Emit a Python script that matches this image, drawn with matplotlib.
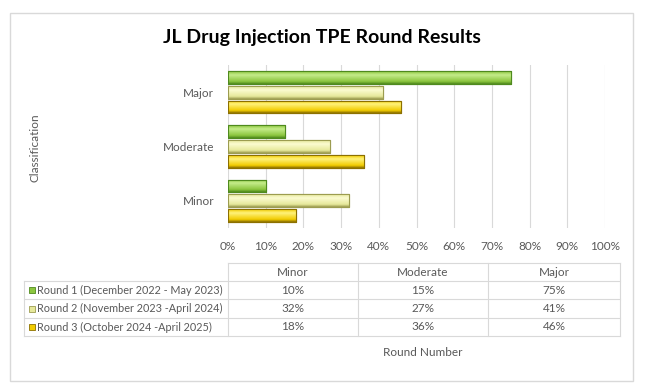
import matplotlib
matplotlib.use("Agg")
import matplotlib.pyplot as plt
import numpy as np
from matplotlib.patches import Rectangle
from matplotlib.lines import Line2D
from matplotlib.colors import LinearSegmentedColormap

categories = ["Minor", "Moderate", "Major"]
series_names = ["Round 1 (December 2022 - May 2023)",
                "Round 2 (November 2023 -April 2024)",
                "Round 3 (October 2024 -April 2025)"]
round1 = [10, 15, 75]
round2 = [32, 27, 41]
round3 = [18, 36, 46]
xticks = [0, 10, 20, 30, 40, 50, 60, 70, 80, 90, 100]

title = "JL Drug Injection TPE Round Results"
ylabel = "Classification"
xlabel = "Round Number"

FONT = "Lato"
FS = 8.5
TXT = "#595959"
# (light, mid, dark) per series
colors = [("#c4ec8a", "#8cc63f", "#4f8a1e"),
          ("#fbfbd0", "#e6e89a", "#9c9c50"),
          ("#fff27a", "#f2cc00", "#8c7000")]

W, H = 657, 389
fig = plt.figure(figsize=(W / 100, H / 100), dpi=100)
fig.patch.set_facecolor("white")

def fx(px):
    return px / W

def fy(py):
    return 1 - py / H

# outer border
fig.add_artist(Rectangle((fx(10), fy(381)), fx(633) - fx(10), fy(13) - fy(381),
                         transform=fig.transFigure, fill=False, edgecolor="#d9d9d9", lw=1))

ax = fig.add_axes([fx(228), fy(228), fx(605) - fx(228), fy(65) - fy(228)])
for s in ax.spines.values():
    s.set_visible(False)
ax.set_xticks(xticks)
ax.set_xticklabels([f"{t}%" for t in xticks], fontsize=FS, color=TXT, family=FONT)
ax.tick_params(axis="x", length=0, pad=9)
ax.set_yticks(range(len(categories)))
ax.set_yticklabels(categories, fontsize=FS, color=TXT, family=FONT)
ax.tick_params(axis="y", length=0, pad=10)
ax.grid(axis="x", color="#d9d9d9", lw=0.8)
ax.set_axisbelow(True)

bh = 0.235
offsets = [0.275, 0.0, -0.275]
all_series = [round1, round2, round3]
ypos = np.arange(len(categories))

for si, (vals, off) in enumerate(zip(all_series, offsets)):
    light, mid, dark = colors[si]
    cmap = LinearSegmentedColormap.from_list(f"c{si}", [(0, dark), (0.2, mid), (0.7, light), (1.0, mid)])
    bars = ax.barh(ypos + off, vals, height=bh, color=mid, edgecolor=dark, lw=0.8, zorder=2)
    grad = np.linspace(0, 1, 64).reshape(-1, 1)
    for b in bars:
        x0, y0 = b.get_x(), b.get_y()
        w, h = b.get_width(), b.get_height()
        im = ax.imshow(grad, extent=(x0, x0 + w, y0, y0 + h), origin="lower",
                       aspect="auto", cmap=cmap, zorder=2.5)
        im.set_clip_path(b)
        ax.add_patch(Rectangle((x0, y0), w, h, fill=False, edgecolor=dark, lw=0.8, zorder=3))
ax.set_xlim(0, 100)
ax.set_ylim(-0.5, 2.5)

fig.text(fx(322), fy(37), title, ha="center", va="center", fontsize=14,
         fontweight="bold", family=FONT, color="black")
fig.text(fx(35), fy(148), ylabel, ha="center", va="center", rotation=90,
         fontsize=FS, family=FONT, color=TXT)
fig.text(fx(423), fy(353), xlabel, ha="center", va="center",
         fontsize=FS, family=FONT, color=TXT)

# data table
col_x = [228, 358, 488, 620]
row_y = [263, 281, 299, 318, 336]
lc = "#d9d9d9"
def hline(x0, x1, y):
    fig.add_artist(Line2D([fx(x0), fx(x1)], [fy(y), fy(y)], transform=fig.transFigure, color=lc, lw=0.8))
def vline(x, y0, y1):
    fig.add_artist(Line2D([fx(x), fx(x)], [fy(y0), fy(y1)], transform=fig.transFigure, color=lc, lw=0.8))

hline(col_x[0], col_x[-1], row_y[0])
for y in row_y[1:]:
    hline(24, col_x[-1], y)
vline(24, row_y[1], row_y[-1])
for x in col_x:
    vline(x, row_y[0], row_y[-1])

for ci, cat in enumerate(categories):
    cx = (col_x[ci] + col_x[ci + 1]) / 2
    fig.text(fx(cx), fy((row_y[0] + row_y[1]) / 2), cat, ha="center", va="center",
             fontsize=FS, family=FONT, color=TXT)
    for si, vals in enumerate(all_series):
        fig.text(fx(cx), fy((row_y[si + 1] + row_y[si + 2]) / 2), f"{vals[ci]}%",
                 ha="center", va="center", fontsize=FS, family=FONT, color=TXT)

for si, name in enumerate(series_names):
    yc = (row_y[si + 1] + row_y[si + 2]) / 2
    light, mid, dark = colors[si]
    fig.add_artist(Rectangle((fx(29), fy(yc + 3)), fx(6), 6 / H, transform=fig.transFigure,
                             facecolor=mid, edgecolor=dark, lw=0.6))
    fig.text(fx(37), fy(yc), name, ha="left", va="center", fontsize=7.8,
             family=FONT, color=TXT)

fig.savefig("out.png", dpi=100, facecolor="white")
